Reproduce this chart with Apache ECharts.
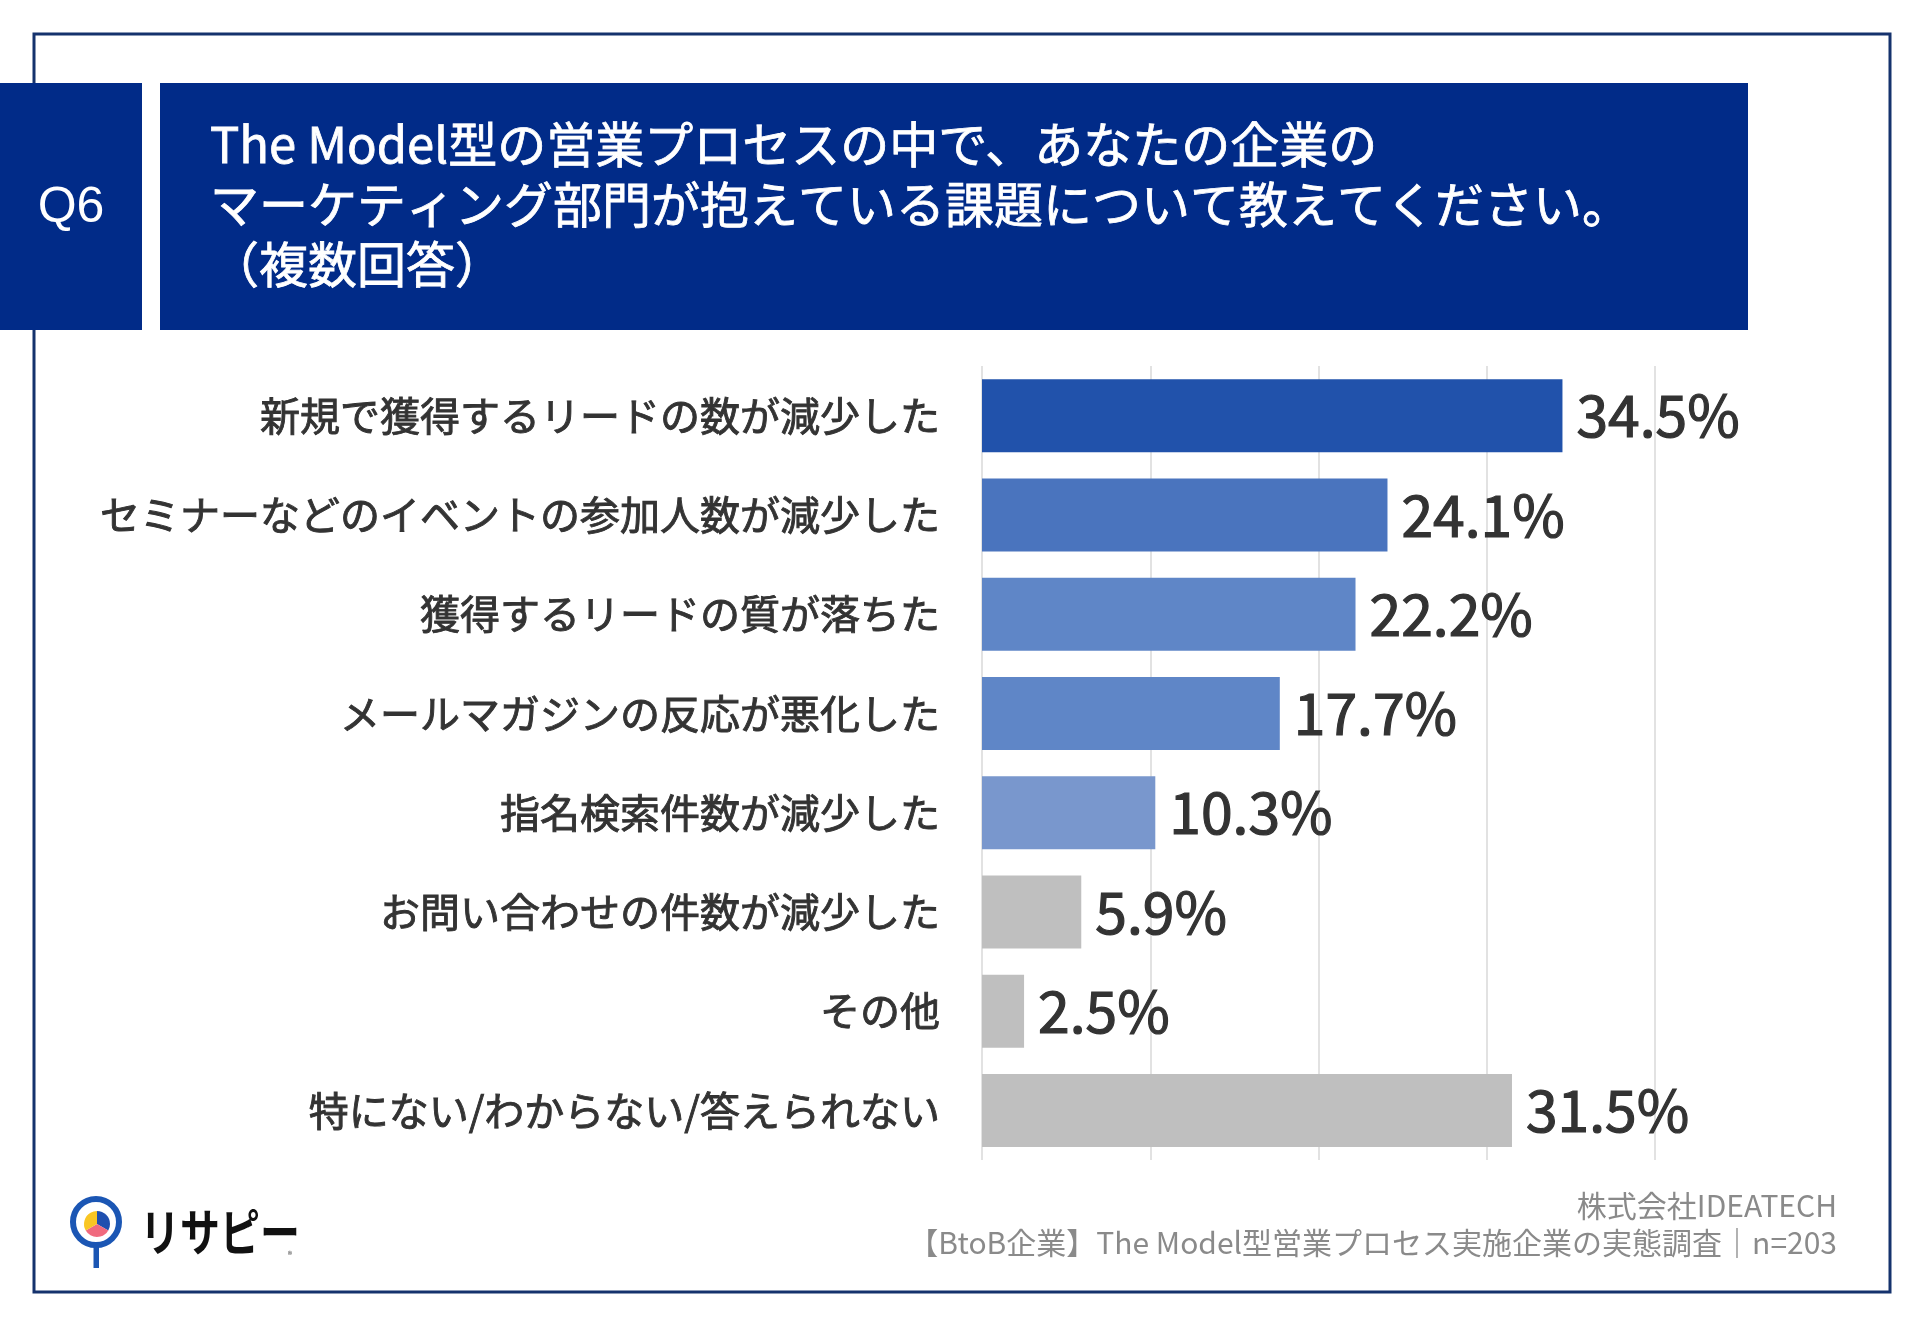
<!DOCTYPE html>
<html>
<head>
<meta charset="utf-8">
<script src="https://cdn.jsdelivr.net/npm/echarts@6/dist/echarts.min.js"></script>
<style>
html,body{margin:0;padding:0;background:#fff;}
#chart{width:1920px;height:1329px;}
</style>
</head>
<body>
<div id="chart"></div>
<script>
// ---- data ----
const categories = [
  '新規で獲得するリードの数が減少した',
  'セミナーなどのイベントの参加人数が減少した',
  '獲得するリードの質が落ちた',
  'メールマガジンの反応が悪化した',
  '指名検索件数が減少した',
  'お問い合わせの件数が減少した',
  'その他',
  '特にない/わからない/答えられない'
];
const values = [34.5, 24.1, 22.2, 17.7, 10.3, 5.9, 2.5, 31.5];
const barColors = ['#2152AB', '#4A74BE', '#5F86C7', '#5F86C7', '#7997CD', '#BFBFBF', '#BFBFBF', '#BFBFBF'];
const axisTicks = [0, 10, 20, 30, 40];
const titleLines = [
  'The Model型の営業プロセスの中で、あなたの企業の',
  'マーケティング部門が抱えている課題について教えてください。',
  '（複数回答）'
];
const questionLabel = 'Q6';
const sourceLines = ['株式会社IDEATECH', '【BtoB企業】The Model型営業プロセス実施企業の実態調査｜n=203'];
const brandName = 'リサピー';

const JP = '"Noto Sans CJK JP", "Noto Sans", sans-serif';

const chart = echarts.init(document.getElementById('chart'));
chart.setOption({
  backgroundColor: '#ffffff',
  animation: false,
  grid: { left: 982, right: 265, top: 366, bottom: 169, containLabel: false },
  xAxis: {
    type: 'value',
    min: axisTicks[0],
    max: axisTicks[axisTicks.length - 1],
    interval: axisTicks[1] - axisTicks[0],
    axisLine: { show: false },
    axisTick: { show: false },
    axisLabel: { show: false },
    splitLine: { show: true, lineStyle: { color: '#d9d9d9', width: 1.5 } }
  },
  yAxis: {
    type: 'category',
    inverse: true,
    data: categories,
    axisLine: { show: false },
    axisTick: { show: false },
    axisLabel: {
      margin: 42,
      fontSize: 40,
      fontWeight: 'normal',
      color: '#333333',
      textBorderColor: '#333333',
      textBorderWidth: 0.9,
      fontFamily: JP
    }
  },
  series: [{
    type: 'bar',
    barWidth: 73,
    data: values.map((v, i) => ({ value: v, itemStyle: { color: barColors[i] } })),
    label: {
      show: true,
      position: 'right',
      distance: 14,
      fontSize: 57,
      color: '#333333',
      textBorderColor: '#333333',
      textBorderWidth: 1.2,
      fontFamily: JP,
      formatter: p => p.value.toFixed(1) + '%'
    }
  }],
  graphic: [
    // outer frame
    { type: 'rect', shape: { x: 34, y: 34, width: 1856, height: 1258 },
      style: { fill: 'none', stroke: '#15326d', lineWidth: 3 }, z: 1 },
    // question box
    { type: 'rect', shape: { x: 0, y: 83, width: 142, height: 247 },
      style: { fill: '#012B88' }, z: 2 },
    { type: 'text', x: 71, y: 208, z: 3,
      style: { text: questionLabel, fill: '#ffffff', font: '50px "Liberation Sans", Arial, sans-serif',
               align: 'center', verticalAlign: 'middle' } },
    // title box
    { type: 'rect', shape: { x: 160, y: 83, width: 1588, height: 247 },
      style: { fill: '#012B88' }, z: 2 },
    { type: 'text', x: 210, y: 114, z: 3,
      style: { text: titleLines.join('\n'), fill: '#ffffff', font: '49px ' + JP,
               stroke: '#ffffff', lineWidth: 0.8,
               lineHeight: 60, align: 'left', verticalAlign: 'top' } },
    // source
    { type: 'text', x: 1837, y: 1206, z: 3,
      style: { text: sourceLines[0], fill: '#8a8a8a', font: '30px ' + JP, align: 'right', verticalAlign: 'middle' } },
    { type: 'text', x: 1837, y: 1243, z: 3,
      style: { text: sourceLines[1], fill: '#8a8a8a', font: '30px ' + JP, align: 'right', verticalAlign: 'middle' } },
    // logo pin
    { type: 'rect', shape: { x: 93.5, y: 1240, width: 5.5, height: 28 }, style: { fill: '#1B56B4' }, z: 3 },
    { type: 'circle', shape: { cx: 96, cy: 1222, r: 23 }, style: { fill: '#ffffff', stroke: '#1B56B4', lineWidth: 6 }, z: 4 },
    { type: 'sector', shape: { cx: 97, cy: 1224, r: 13, startAngle: -Math.PI / 2, endAngle: Math.PI / 6 },
      style: { fill: '#1F4FAF' }, z: 5 },
    { type: 'sector', shape: { cx: 97, cy: 1224, r: 13, startAngle: Math.PI / 6, endAngle: 5 * Math.PI / 6 },
      style: { fill: '#F06A7E' }, z: 5 },
    { type: 'sector', shape: { cx: 97, cy: 1224, r: 13, startAngle: 5 * Math.PI / 6, endAngle: 3 * Math.PI / 2 },
      style: { fill: '#F9C623' }, z: 5 },
    { type: 'text', x: 140, y: 1232, scaleX: 0.8, z: 3,
      style: { text: brandName, fill: '#111111', font: 'bold 50px ' + JP, align: 'left', verticalAlign: 'middle' } },
    { type: 'text', x: 290, y: 1255, z: 3,
      style: { text: '®', fill: '#333333', font: '9px ' + JP, align: 'center', verticalAlign: 'middle' } }
  ]
});
</script>
</body>
</html>
